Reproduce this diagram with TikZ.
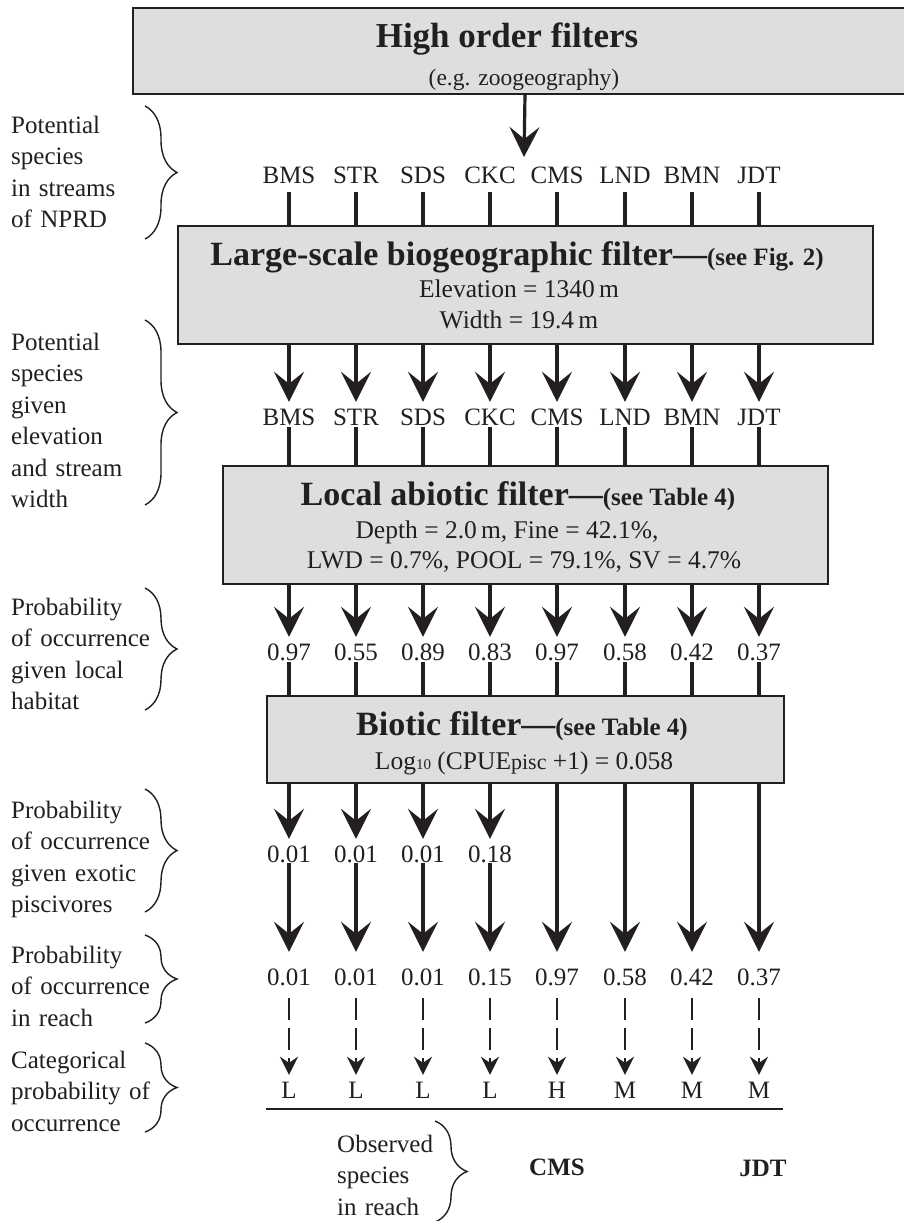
\documentclass[tikz,border=0pt]{standalone}
\usepackage{fontspec}
\setmainfont{Liberation Serif}
\usetikzlibrary{arrows.meta,decorations.pathreplacing}
\definecolor{boxfill}{RGB}{221,222,224}
\definecolor{ink}{RGB}{35,31,32}
\setlength{\parindent}{0pt}
\newcommand{\fs}[1]{\fontsize{#1}{#1}\selectfont}
\begin{document}
\begin{tikzpicture}[x=1pt,y=-1pt,
  fbox/.style={draw=ink,line width=2pt,fill=boxfill,inner sep=0pt,anchor=north west},
  sp/.style={font=\fs{25},anchor=base,inner sep=0pt,text height=17pt,text depth=0pt,text=ink},
  boxtxt/.style={anchor=base,inner sep=0pt,text=ink},
  side/.style={font=\fontsize{25}{31.5}\selectfont,text width=150pt,align=left,inner sep=0pt,anchor=base west,text=ink},
  shaft/.style={line width=3.2pt,draw=ink},
  big/.style={-{Stealth[length=30pt,width=30pt,inset=12pt]},line width=3.2pt,draw=ink},
  small/.style={-{Stealth[length=18pt,width=18pt,inset=6pt]},line width=2.6pt,draw=ink,dash pattern=on 22pt off 8pt},
  brc/.style={decorate,decoration={brace,amplitude=32pt},line width=1.4pt,draw=ink},
]
\useasboundingbox (0,0) rectangle (904,1221);
\fill[white] (0,0) rectangle (904,1221);

% boxes
\node[fbox,minimum width=784pt,minimum height=86pt] (top) at (132,7) {};
\node[fbox,minimum width=695pt,minimum height=118pt] (large) at (177,225) {};
\node[fbox,minimum width=605pt,minimum height=118pt] (local) at (222,465) {};
\node[fbox,minimum width=517pt,minimum height=87pt] (biotic) at (266,695) {};

% box texts
\node[boxtxt,font=\fs{35}\bfseries] (toptitle) at (507,47) {High order filters};
\node[boxtxt,font=\fs{23.5}] (topsub) at (524,85) {(e.g. zoogeography)};
\node[boxtxt] (largetitle) at (517,265) {{\fs{34}\bfseries Large-scale biogeographic filter—}{\fs{25}\bfseries(see Fig. 2)}};
\node[boxtxt,font=\fs{25.5}] (elev) at (519,297) {Elevation = 1340\,m};
\node[boxtxt,font=\fs{25.5}] (width) at (519,328) {Width = 19.4\,m};
\node[boxtxt] (localtitle) at (518,505) {{\fs{34}\bfseries Local abiotic filter—}{\fs{25}\bfseries(see Table 4)}};
\node[boxtxt,font=\fs{25.5}] (depth) at (507,538) {Depth = 2.0\,m, Fine = 42.1\%,};
\node[boxtxt,font=\fs{25.5}] (lwd) at (524,568) {LWD = 0.7\%, POOL = 79.1\%, SV = 4.7\%};
\node[boxtxt] (biotictitle) at (522,735) {{\fs{34}\bfseries Biotic filter—}{\fs{25}\bfseries(see Table 4)}};
\node[boxtxt,font=\fs{25.5}] (logline) at (524,769) {Log{\fs{15}10} (CPUE{\fs{22}pisc} +1) = 0.058};

% rows of labels
\foreach \x/\t [count=\i] in {289/BMS,356/STR,423/SDS,490/CKC,557/CMS,625/LND,692/BMN,759/JDT}{
  \node[sp] (a\i) at (\x,183) {\t};
  \node[sp] (b\i) at (\x,425) {\t};
}
\foreach \x/\t [count=\i] in {289/0.97,356/0.55,423/0.89,490/0.83,557/0.97,625/0.58,692/0.42,759/0.37}
  \node[sp] (c\i) at (\x,660) {\t};
\foreach \x/\t [count=\i] in {289/0.01,356/0.01,423/0.01,490/0.18}
  \node[sp] (d\i) at (\x,862) {\t};
\foreach \x/\t [count=\i] in {289/0.01,356/0.01,423/0.01,490/0.15,557/0.97,625/0.58,692/0.42,759/0.37}
  \node[sp] (e\i) at (\x,985) {\t};
\foreach \x/\t [count=\i] in {289/L,356/L,423/L,490/L,557/H,625/M,692/M,759/M}
  \node[sp] (f\i) at (\x,1098) {\t};

% connectors
\coordinate (t0) at (524,157);
\draw[big] (top.south) -- (t0);
\foreach \i in {1,...,8}{
  \draw[shaft,shorten <=9pt] (a\i.south) -- (a\i |- large.north);
  \draw[big,shorten >=6pt] (large.south -| b\i) -- (b\i.north);
  \draw[shaft,shorten <=2pt] (b\i.south) -- (b\i |- local.north);
  \draw[big,shorten >=6pt] (local.south -| c\i) -- (c\i.north);
  \draw[shaft,shorten <=2pt] (c\i.south) -- (c\i |- biotic.north);
  \draw[small,shorten <=13pt,shorten >=6pt] (e\i.south) -- (f\i.north);
}
\foreach \i in {1,...,4}{
  \draw[big,shorten >=6pt] (biotic.south -| d\i) -- (d\i.north);
  \draw[big,shorten <=1pt,shorten >=16pt] (d\i.south) -- (e\i.north);
}
\foreach \i in {5,...,8}
  \draw[big,shorten >=16pt] (biotic.south -| e\i) -- (e\i.north);

% rule
\coordinate (r1) at (266,1109);
\coordinate (r2) at (783,1109);
\draw[ink,line width=1.6pt] (r1) -- (r2);

% observed species
\node[boxtxt,font=\fs{25}\bfseries] (obs5) at (557,1175) {CMS};
\node[boxtxt,font=\fs{25}\bfseries] (obs8) at (763,1176) {JDT};

% side labels
\node[side] (l1) at (11,133) {Potential\\species\\in streams\\of NPRD};
\node[side] (l2) at (11,350) {Potential\\species\\given\\elevation\\and stream\\width};
\node[side] (l3) at (11,615) {Probability\\of occurrence\\given local\\habitat};
\node[side] (l4) at (11,818) {Probability\\of occurrence\\given exotic\\piscivores};
\node[side] (l5) at (11,963) {Probability\\of occurrence\\in reach};
\node[side] (l6) at (11,1068) {Categorical\\probability of\\occurrence};
\node[side,text width=120pt] (l7) at (337,1152) {Observed\\species\\in reach};

% braces
\draw[brc] (145,106) -- (145,239);
\draw[brc] (145,320) -- (145,505);
\draw[brc] (145,588) -- (145,710);
\draw[brc] (145,789) -- (145,912);
\draw[brc] (145,935) -- (145,1023);
\draw[brc] (145,1043) -- (145,1132);
\draw[brc] (435,1121) -- (435,1222);
\end{tikzpicture}
\end{document}
